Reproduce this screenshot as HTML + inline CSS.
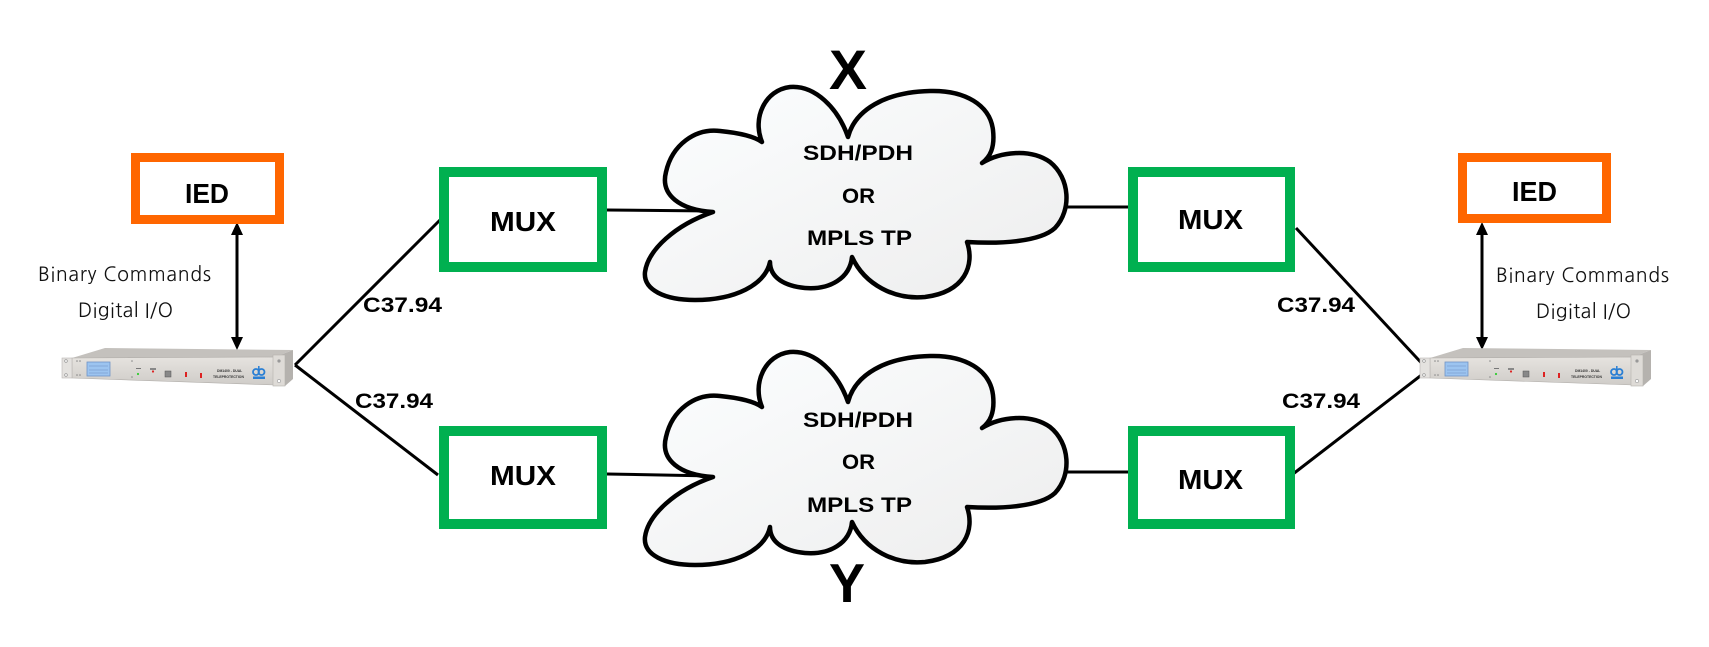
<!DOCTYPE html>
<html>
<head>
<meta charset="utf-8">
<style>
html,body{margin:0;padding:0;background:#fff;}
svg{display:block;}
.b{font-family:"Liberation Sans",Arial,sans-serif;font-weight:bold;fill:#000;}
.r{font-family:"NanumGothic","Liberation Sans",sans-serif;fill:#111;}
</style>
</head>
<body>
<svg width="1709" height="647" viewBox="0 0 1709 647" xmlns="http://www.w3.org/2000/svg">
<defs>
  <linearGradient id="cg" x1="0" y1="0" x2="1" y2="1">
    <stop offset="0" stop-color="#fcfeff"/>
    <stop offset="1" stop-color="#ededed"/>
  </linearGradient>
  <linearGradient id="fg" x1="0" y1="0" x2="0" y2="1">
    <stop offset="0" stop-color="#e6e3df"/>
    <stop offset="1" stop-color="#cfccc8"/>
  </linearGradient>
  <g id="dev">
    <!-- top face -->
    <polygon points="72,358 105,348 293,350 275,357" fill="#c4c1bd"/>
    <!-- front -->
    <polygon points="72,358 275,357 275,385 72,378" fill="url(#fg)" stroke="#b0ada9" stroke-width="0.6"/>
    <!-- right side -->
    <polygon points="275,357 293,350 293,379 285,386 275,385" fill="#b5b2ae"/>
    <rect x="273" y="355" width="12" height="31" fill="#dedbd7" stroke="#b5b2ae" stroke-width="0.6"/>
    <circle cx="279" cy="361" r="1.6" fill="#999"/>
    <circle cx="279" cy="381" r="1.6" fill="#fff" stroke="#999" stroke-width="0.6"/>
    <!-- left ear -->
    <rect x="62" y="358" width="10" height="20" fill="#e4e2df" stroke="#b9b6b2" stroke-width="0.6"/>
    <circle cx="66" cy="361" r="1.3" fill="#fff" stroke="#888" stroke-width="0.6"/>
    <circle cx="66" cy="375" r="1.3" fill="#fff" stroke="#888" stroke-width="0.6"/>
    <circle cx="77" cy="361" r="0.8" fill="#888"/>
    <circle cx="80" cy="361" r="0.8" fill="#888"/>
    <circle cx="77" cy="375" r="0.8" fill="#888"/>
    <circle cx="80" cy="375" r="0.8" fill="#888"/>
    <!-- screen -->
    <rect x="87" y="362" width="23" height="14" fill="#9cc4f0" stroke="#7094c6" stroke-width="0.8"/>
    <line x1="89" y1="366" x2="108" y2="366" stroke="#7b9fd0" stroke-width="0.8"/>
    <line x1="89" y1="370" x2="108" y2="370" stroke="#7b9fd0" stroke-width="0.8"/>
    <line x1="89" y1="373" x2="108" y2="373" stroke="#7b9fd0" stroke-width="0.8"/>
    <circle cx="132" cy="361" r="0.8" fill="#888"/>
    <circle cx="132" cy="377" r="0.8" fill="#888"/>
    <!-- leds -->
    <rect x="136" y="368" width="5" height="1" fill="#777"/>
    <circle cx="138" cy="374" r="1.1" fill="#3c3"/>
    <rect x="150" y="368" width="6" height="2" fill="#888"/>
    <circle cx="153" cy="371.5" r="1.1" fill="#d22"/>
    <rect x="165" y="371" width="6" height="6" fill="#888" stroke="#555" stroke-width="0.5"/>
    <rect x="185" y="372" width="2" height="5" fill="#d22"/>
    <rect x="200" y="373" width="2" height="5" fill="#d22"/>
    <text x="217" y="372" font-family="Liberation Sans,sans-serif" font-size="3.4" font-weight="bold" fill="#333">DM1400 - DUAL</text>
    <text x="213" y="378" font-family="Liberation Sans,sans-serif" font-size="3.4" font-weight="bold" fill="#333">TELEPROTECTION</text>
    <!-- logo -->
    <circle cx="256" cy="372" r="3" fill="none" stroke="#2a7fd4" stroke-width="1.8"/>
    <circle cx="261.5" cy="372" r="3" fill="none" stroke="#2a7fd4" stroke-width="1.8"/>
    <line x1="258.8" y1="366" x2="258.8" y2="372" stroke="#2a7fd4" stroke-width="1.5"/>
    <rect x="253" y="376.5" width="12" height="2.5" fill="#2a7fd4"/>
  </g>
  <path id="cloud" d="M 713 212 C 680 210, 660 195, 666 172 C 672 145, 695 128, 720 131 C 740 133, 755 137, 762 142
     C 752 118, 765 90, 790 87 C 815 85, 838 108, 848 137
     C 855 110, 885 92, 930 91 C 965 90, 990 105, 993 130 C 995 148, 990 157, 982 163
     C 1000 152, 1030 148, 1050 162 C 1070 178, 1072 210, 1055 228 C 1040 242, 1000 244, 967 242
     C 975 265, 965 292, 925 297 C 895 300, 865 285, 852 257
     C 850 278, 830 290, 805 288 C 785 286, 770 278, 770 262
     C 765 285, 735 300, 695 300 C 665 300, 643 290, 645 272 C 648 250, 675 225, 713 212 Z"
     fill="url(#cg)" stroke="#000" stroke-width="4.5" stroke-linejoin="round"/>
</defs>

<!-- connectors -->
<g stroke="#000" stroke-width="3" fill="none">
  <line x1="295" y1="365" x2="442" y2="218"/>
  <line x1="295" y1="365" x2="438" y2="475"/>
  <line x1="1296" y1="228" x2="1428" y2="370"/>
  <line x1="1293" y1="474" x2="1428" y2="370"/>
  <line x1="607" y1="210" x2="713" y2="211"/>
  <line x1="1066" y1="207" x2="1128" y2="207"/>
  <line x1="607" y1="474" x2="713" y2="476"/>
  <line x1="1066" y1="472" x2="1128" y2="472"/>
  <line x1="237" y1="232" x2="237" y2="340"/>
  <line x1="1482" y1="232" x2="1482" y2="340"/>
</g>
<g fill="#000">
  <polygon points="237,222 231,235 243,235"/>
  <polygon points="237,350 231,337 243,337"/>
  <polygon points="1482,222 1476,235 1488,235"/>
  <polygon points="1482,350 1476,337 1488,337"/>
</g>

<!-- clouds -->
<use href="#cloud"/>
<use href="#cloud" transform="translate(0,265)"/>

<!-- IED boxes -->
<rect x="135.5" y="157.5" width="144" height="62" fill="#fff" stroke="#ff6600" stroke-width="9"/>
<rect x="1462.5" y="157.5" width="144" height="61" fill="#fff" stroke="#ff6600" stroke-width="9"/>

<!-- MUX boxes -->
<g fill="#fff" stroke="#00b050" stroke-width="10">
  <rect x="444" y="172" width="158" height="95"/>
  <rect x="444" y="431" width="158" height="93"/>
  <rect x="1133" y="172" width="157" height="95"/>
  <rect x="1133" y="431" width="157" height="93"/>
</g>

<!-- devices -->
<use href="#dev"/>
<use href="#dev" transform="translate(1358,0)"/>

<!-- texts -->
<text class="b" x="185" y="203" font-size="28" textLength="44" lengthAdjust="spacingAndGlyphs">IED</text>
<text class="b" x="1512" y="201" font-size="28" textLength="45" lengthAdjust="spacingAndGlyphs">IED</text>

<text class="b" x="490" y="231" font-size="28" textLength="66" lengthAdjust="spacingAndGlyphs">MUX</text>
<text class="b" x="490" y="485" font-size="28" textLength="66" lengthAdjust="spacingAndGlyphs">MUX</text>
<text class="b" x="1178" y="229" font-size="28" textLength="65" lengthAdjust="spacingAndGlyphs">MUX</text>
<text class="b" x="1178" y="489" font-size="28" textLength="65" lengthAdjust="spacingAndGlyphs">MUX</text>

<text class="b" x="829" y="89" font-size="56" textLength="38" lengthAdjust="spacingAndGlyphs">X</text>
<text class="b" x="829" y="602" font-size="55" textLength="36" lengthAdjust="spacingAndGlyphs">Y</text>

<text class="b" x="803" y="160" font-size="21.5" textLength="110" lengthAdjust="spacingAndGlyphs">SDH/PDH</text>
<text class="b" x="842" y="203" font-size="21.5" textLength="33" lengthAdjust="spacingAndGlyphs">OR</text>
<text class="b" x="807" y="245" font-size="21.5" textLength="105" lengthAdjust="spacingAndGlyphs">MPLS TP</text>

<text class="b" x="803" y="427" font-size="21.5" textLength="110" lengthAdjust="spacingAndGlyphs">SDH/PDH</text>
<text class="b" x="842" y="469" font-size="21.5" textLength="33" lengthAdjust="spacingAndGlyphs">OR</text>
<text class="b" x="807" y="512" font-size="21.5" textLength="105" lengthAdjust="spacingAndGlyphs">MPLS TP</text>

<text class="b" x="363" y="312" font-size="21.5" textLength="79" lengthAdjust="spacingAndGlyphs">C37.94</text>
<text class="b" x="355" y="408" font-size="21.5" textLength="78" lengthAdjust="spacingAndGlyphs">C37.94</text>
<text class="b" x="1277" y="312" font-size="21.5" textLength="78" lengthAdjust="spacingAndGlyphs">C37.94</text>
<text class="b" x="1282" y="408" font-size="21.5" textLength="78" lengthAdjust="spacingAndGlyphs">C37.94</text>

<text class="r" x="38" y="281" font-size="19.5" textLength="173">Binary Commands</text>
<text class="r" x="78" y="317" font-size="19.5" textLength="95">Digital I/O</text>
<text class="r" x="1496" y="282" font-size="19.5" textLength="173">Binary Commands</text>
<text class="r" x="1536" y="318" font-size="19.5" textLength="95">Digital I/O</text>
</svg>
</body>
</html>
